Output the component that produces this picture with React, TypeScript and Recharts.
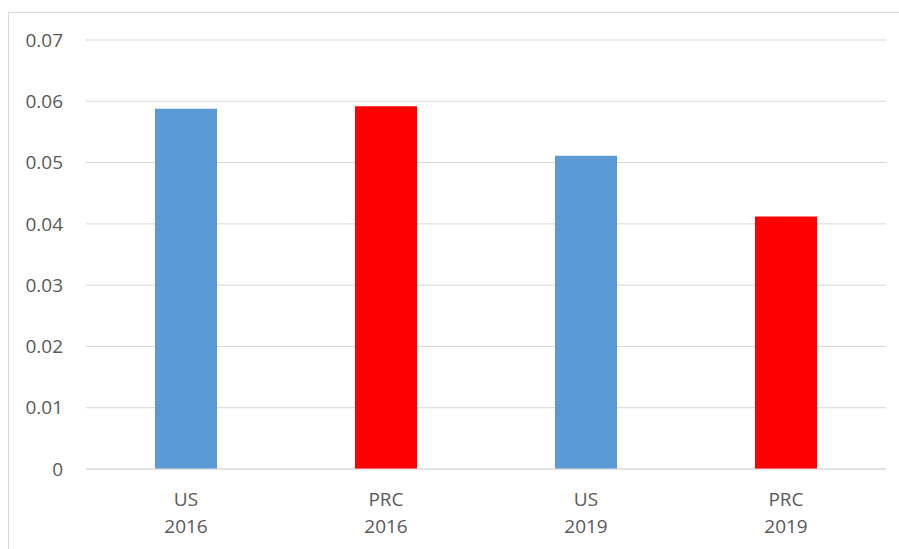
import { BarChart, Bar, XAxis, YAxis, CartesianGrid, Cell } from "recharts";

const categories = ["US\n2016", "PRC\n2016", "US\n2019", "PRC\n2019"];
const values = [0.0588, 0.0592, 0.0511, 0.0412];
const barColors = ["#5B9BD5", "#FF0000", "#5B9BD5", "#FF0000"];
const yTicks = [0, 0.01, 0.02, 0.03, 0.04, 0.05, 0.06, 0.07];

const data = categories.map((name, i) => ({ name, value: values[i] }));

const FONT = '"Open Sans", "Liberation Sans", sans-serif';
const TEXT = "#595959";

function CategoryTick({ x, y, payload }: any) {
  const lines = String(payload.value).split("\n");
  return (
    <g transform={`translate(${x},${y})`}>
      {lines.map((line, i) => (
        <text
          key={i}
          x={0}
          y={37 + i * 27}
          textAnchor="middle"
          fill={TEXT}
          fontSize={19}
          fontFamily={FONT}
        >
          {line}
        </text>
      ))}
    </g>
  );
}

export default function App() {
  return (
    <div
      style={{
        position: "fixed",
        left: 0,
        top: 0,
        width: 899,
        height: 549,
        overflow: "hidden",
        background: "#fff",
      }}
    >
      <div
        style={{
          position: "absolute",
          left: 8,
          top: 12,
          width: 900,
          height: 560,
          border: "1px solid #D9D9D9",
          background: "#fff",
        }}
      >
        <BarChart
          width={900}
          height={560}
          data={data}
          margin={{ top: 27, right: 23, bottom: 44, left: 0 }}
          barCategoryGap="34.5%"
        >
          <CartesianGrid vertical={false} stroke="#D9D9D9" strokeWidth={1} />
          <XAxis
            dataKey="name"
            axisLine={{ stroke: "#D9D9D9" }}
            tickLine={false}
            tickSize={0}
            tickMargin={0}
            height={60}
            interval={0}
            tick={<CategoryTick />}
          />
          <YAxis
            width={77}
            domain={[0, 0.07]}
            ticks={yTicks}
            interval={0}
            axisLine={false}
            tickLine={false}
            tickSize={0}
            tickMargin={23}
            tickFormatter={(v: number) => (v === 0 ? "0" : v.toFixed(2))}
            tick={{ fill: TEXT, fontSize: 19, fontFamily: FONT }}
          />
          <Bar dataKey="value" isAnimationActive={false}>
            {data.map((d, i) => (
              <Cell key={d.name} fill={barColors[i]} />
            ))}
          </Bar>
        </BarChart>
      </div>
    </div>
  );
}
